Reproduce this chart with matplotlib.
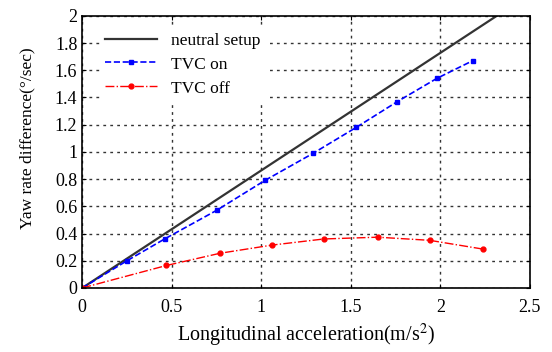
import numpy as np
import matplotlib
matplotlib.use('Agg')
import matplotlib.pyplot as plt

# values
neutral_x = [0, 2.5]
neutral_y = [0, 2.16]

tvc_on_x = [0, 0.25, 0.46, 0.75, 1.02, 1.29, 1.53, 1.76, 1.98, 2.18]
tvc_on_y = [0, 0.20, 0.36, 0.57, 0.79, 0.99, 1.18, 1.37, 1.54, 1.67]

tvc_off_x = [0, 0.47, 0.77, 1.06, 1.35, 1.65, 1.94, 2.24]
tvc_off_y = [0, 0.165, 0.255, 0.315, 0.36, 0.373, 0.35, 0.285]

xticks = [0, 0.5, 1, 1.5, 2, 2.5]
yticks = [0, 0.2, 0.4, 0.6, 0.8, 1, 1.2, 1.4, 1.6, 1.8, 2]

plt.rcParams['font.family'] = ['Liberation Serif', 'DejaVu Serif']
plt.rcParams['mathtext.fontset'] = 'stix'

fig = plt.figure(figsize=(5.52, 3.52), dpi=100)
ax = fig.add_axes([0.149, 0.182, 0.811, 0.773])

ax.plot(neutral_x, neutral_y, color='#333333', lw=1.6, label='neutral setup')
ax.plot(tvc_on_x, tvc_on_y, color='blue', ls='--', lw=1.2, marker='s',
        markersize=3.5, label='TVC on')
ax.plot(tvc_off_x, tvc_off_y, color='red', ls='-.', lw=1.0, marker='o',
        markersize=3.5, label='TVC off')

ax.set_xlim(0, 2.5)
ax.set_ylim(0, 2)
ax.set_xticks(xticks)
ax.set_xticklabels(['0', '0.5', '1', '1.5', '2', '2.5'])
ax.set_yticks(yticks)
ax.set_yticklabels(['0', '0.2', '0.4', '0.6', '0.8', '1', '1.2', '1.4', '1.6', '1.8', '2'])
ax.tick_params(direction='in', top=True, right=True, labelsize=13, length=3)
ax.tick_params(axis='x', pad=8)
ax.grid(True, color='#333333', ls=(0, (2, 3)), lw=1.0)

ax.set_xlabel('Longitudinal acceleration(m/s$^2$)', fontsize=14.5, labelpad=4)
ax.set_ylabel('Yaw rate difference(\u00b0/sec)', fontsize=12.5)
ax.yaxis.set_label_coords(-0.105, 0.55)

for s in ax.spines.values():
    s.set_linewidth(1.2)

leg = ax.legend(loc='upper left', bbox_to_anchor=(0.02, 0.99), fontsize=12.5,
                frameon=True, fancybox=False, handlelength=3.0,
                borderpad=0.3, labelspacing=0.45)
leg.get_frame().set_edgecolor('none')
leg.get_frame().set_facecolor('white')
leg.get_frame().set_alpha(1)

fig.savefig('out.png', dpi=100)
